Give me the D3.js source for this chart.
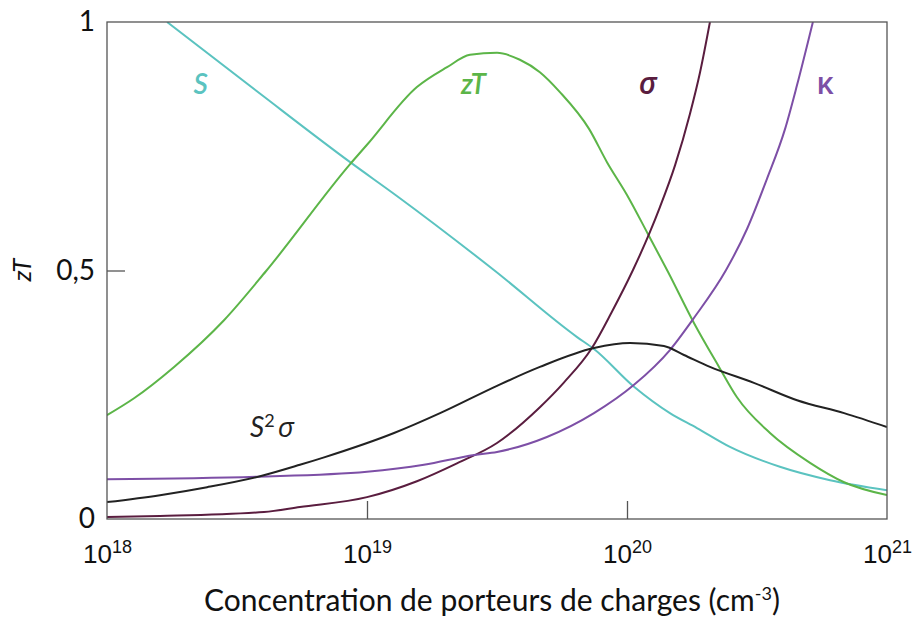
<!DOCTYPE html>
<html>
<head>
<meta charset="utf-8">
<script src="https://cdn.jsdelivr.net/npm/d3@7"></script>
<style>
  html, body { margin: 0; padding: 0; background: #fff; }
  svg { display: block; font-family: Lato, "Open Sans", sans-serif; }
</style>
</head>
<body>
<svg id="chart" width="914" height="621"></svg>
<script>
// x values are log10 of carrier concentration (cm^-3)
const sExp   = [18.231, 18.588, 18.935, 19.115, 19.488, 19.808, 19.873, 20.027, 20.165, 20.269, 20.396, 20.588, 20.781, 21.0];
const sVal   = [1.0, 0.856, 0.718, 0.650, 0.501, 0.366, 0.342, 0.266, 0.213, 0.183, 0.145, 0.105, 0.078, 0.058];

const ztExp  = [18.0, 18.104, 18.258, 18.45, 18.612, 18.935, 19.0, 19.192, 19.308, 19.396, 19.5, 19.588, 19.665, 19.742, 19.854, 19.923, 20.0, 20.081, 20.158, 20.258, 20.354, 20.423, 20.55, 20.704, 20.835, 21.0];
const ztVal  = [0.209, 0.243, 0.306, 0.400, 0.499, 0.714, 0.753, 0.869, 0.909, 0.934, 0.938, 0.924, 0.899, 0.859, 0.785, 0.718, 0.652, 0.573, 0.497, 0.394, 0.306, 0.245, 0.173, 0.113, 0.074, 0.048];

const sigExp = [18.0, 18.204, 18.604, 18.742, 19.0, 19.192, 19.346, 19.5, 19.665, 19.758, 19.865, 19.94, 20.023, 20.088, 20.127, 20.185, 20.242, 20.281, 20.319];
const sigVal = [0.004, 0.006, 0.014, 0.024, 0.044, 0.076, 0.112, 0.153, 0.225, 0.275, 0.344, 0.415, 0.501, 0.577, 0.628, 0.712, 0.815, 0.899, 1.0];

const kapExp = [18.0, 18.577, 19.0, 19.219, 19.412, 19.5, 19.692, 19.873, 20.027, 20.165, 20.258, 20.381, 20.462, 20.538, 20.608, 20.654, 20.715];
const kapVal = [0.080, 0.085, 0.095, 0.109, 0.129, 0.135, 0.165, 0.213, 0.270, 0.340, 0.405, 0.501, 0.584, 0.684, 0.785, 0.873, 1.0];

const pfExp  = [18.0, 18.204, 18.385, 18.596, 18.742, 18.835, 19.104, 19.281, 19.5, 19.665, 19.873, 20.012, 20.142, 20.219, 20.319, 20.488, 20.654, 20.835, 21.0];
const pfVal  = [0.034, 0.048, 0.064, 0.087, 0.109, 0.124, 0.173, 0.213, 0.268, 0.306, 0.344, 0.354, 0.348, 0.330, 0.306, 0.274, 0.239, 0.213, 0.185];

const xTickExp = [18, 19, 20, 21];
const yTickVals = [0, 0.5, 1];

const seriesNames  = ["S", "zT", "σ", "κ", "S²σ"];
const seriesColors = ["#5bc3c0", "#5cb548", "#5a1d3f", "#7d4fa6", "#222222"];

const svg = d3.select("#chart");
const L = 107, R = 887, T = 22, B = 519;

const x = d3.scaleLog().domain([1e18, 1e21]).range([L, R]);
const y = d3.scaleLinear().domain([0, 1]).range([B, T]);

const series = [
  {exp: sExp, val: sVal},
  {exp: ztExp, val: ztVal},
  {exp: sigExp, val: sigVal},
  {exp: kapExp, val: kapVal},
  {exp: pfExp, val: pfVal}
].map((s, i) => ({
  name: seriesNames[i], color: seriesColors[i],
  pts: s.exp.map((e, j) => [Math.pow(10, e), s.val[j]])
}));

svg.append("clipPath").attr("id", "clip")
  .append("rect").attr("x", L).attr("y", T).attr("width", R - L).attr("height", B - T);

const line = d3.line().x(d => x(d[0])).y(d => y(d[1])).curve(d3.curveMonotoneX);

svg.append("g").attr("clip-path", "url(#clip)")
  .selectAll("path").data(series).join("path")
  .attr("d", d => line(d.pts))
  .attr("fill", "none")
  .attr("stroke", d => d.color)
  .attr("stroke-width", 2);

// frame
svg.append("rect").attr("x", L).attr("y", T).attr("width", R - L).attr("height", B - T)
  .attr("fill", "none").attr("stroke", "#555").attr("stroke-width", 1.3);

// y axis
const frLocale = d3.formatLocale({decimal: ",", thousands: " ", grouping: [3], currency: ["", "€"]});
const yFmt = v => (v === 0 || v === 1) ? String(v) : frLocale.format(".1f")(v);
const yAxis = svg.append("g").attr("transform", `translate(${L},0)`)
  .call(d3.axisLeft(y).tickValues(yTickVals).tickSize(0).tickPadding(12).tickFormat(yFmt));
yAxis.select(".domain").remove();
yAxis.selectAll("text").attr("font-size", 28).attr("fill", "#111").attr("font-family", "Lato, sans-serif");
yAxis.selectAll(".tick").filter(d => d === 0.5).append("line")
  .attr("x1", 0).attr("x2", 18).attr("stroke", "#555").attr("stroke-width", 1.3);

// x axis
const xAxis = svg.append("g").attr("transform", `translate(0,${B})`)
  .call(d3.axisBottom(x).tickValues(xTickExp.map(e => Math.pow(10, e))).tickSize(0).tickFormat(""));
xAxis.select(".domain").remove();
xAxis.selectAll(".tick").filter(d => d > 1e18 && d < 1e21).append("line")
  .attr("y1", 0).attr("y2", -18).attr("stroke", "#555").attr("stroke-width", 1.3);
const xt = xAxis.selectAll(".tick").append("text")
  .attr("y", 44).attr("text-anchor", "middle").attr("fill", "#111")
  .attr("font-size", 26);
xt.append("tspan").text("10");
xt.append("tspan").attr("dy", -10).attr("font-size", 18).text(d => Math.round(Math.log10(d)));

// axis titles
const xTitle = svg.append("text").attr("x", 492).attr("y", 611)
  .attr("text-anchor", "middle").attr("font-size", 30).attr("fill", "#111");
xTitle.append("tspan").text("Concentration de porteurs de charges (cm");
xTitle.append("tspan").attr("dy", -11).attr("font-size", 18).text("-3");
xTitle.append("tspan").attr("dy", 11).text(")");

svg.append("text").attr("transform", "translate(31,270) rotate(-90)")
  .attr("text-anchor", "middle").attr("font-size", 26).attr("font-style", "italic")
  .attr("fill", "#111").text("zT");

// series labels
const labelPos = [
  {x: 18.36, y: 0.855, italic: true},
  {x: 19.41, y: 0.855, italic: true},
  {x: 20.08, y: 0.855, italic: true},
  {x: 20.762, y: 0.855, italic: false},
];
labelPos.forEach((p, i) => {
  svg.append("text").attr("x", x(Math.pow(10, p.x))).attr("y", y(p.y))
    .attr("text-anchor", "middle").attr("font-size", i < 2 ? 28 : 30)
    .attr("font-weight", 600)
    .attr("font-style", p.italic ? "italic" : "normal")
    .attr("font-family", i < 2 ? "Lato, sans-serif" : "'Open Sans', sans-serif")
    .attr("fill", seriesColors[i]).text(seriesNames[i]);
});
const pfLabel = svg.append("text").attr("x", x(Math.pow(10, 18.55))).attr("y", y(0.165))
  .attr("font-size", 28).attr("font-style", "italic").attr("fill", seriesColors[4]);
pfLabel.append("tspan").text("S");
pfLabel.append("tspan").attr("dy", -10).attr("font-size", 18).attr("font-style", "normal").text("2");
pfLabel.append("tspan").attr("dy", 10).attr("dx", 3).attr("font-family", "'Open Sans', sans-serif").attr("font-size", 28).text("σ");
</script>
</body>
</html>
